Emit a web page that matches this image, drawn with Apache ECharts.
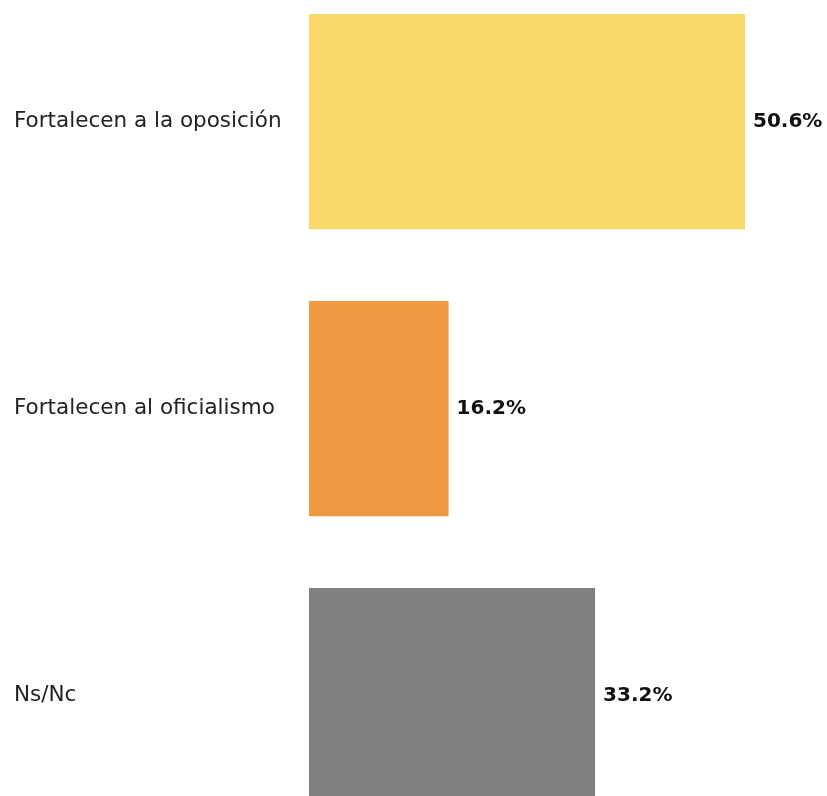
<!DOCTYPE html>
<html>
<head>
<meta charset="utf-8">
<script src="https://cdn.jsdelivr.net/npm/echarts@6/dist/echarts.min.js"></script>
<style>html,body{margin:0;padding:0;background:#fff;}#c{width:827px;height:796px;}</style>
</head>
<body>
<div id="c"></div>
<script>
const categories = ['Fortalecen a la oposición', 'Fortalecen al oficialismo', 'Ns/Nc'];
const values = [50.6, 16.2, 33.2];
const colors = ['#F8D86A', '#EF9A40', '#808080'];

const chart = echarts.init(document.getElementById('c'));
chart.setOption({
  animation: false,
  backgroundColor: '#ffffff',
  grid: { left: 309, top: -22, width: 517, height: 861, outerBoundsMode: 'none', containLabel: false },
  xAxis: { type: 'value', min: 0, max: 60, show: false },
  yAxis: {
    type: 'category', data: categories, inverse: true,
    axisLine: { show: false }, axisTick: { show: false },
    axisLabel: { align: 'left', margin: 295, color: '#222', fontSize: 21.5, fontFamily: 'DejaVu Sans' }
  },
  series: [{
    type: 'bar',
    barCategoryGap: '25%',
    data: values.map((v, i) => ({ value: v, itemStyle: { color: colors[i] } })),
    label: {
      show: true, position: 'right', distance: 8,
      formatter: p => p.value.toFixed(1) + '%',
      fontWeight: 'bold', fontSize: 20, color: '#111', fontFamily: 'DejaVu Sans'
    }
  }]
});
</script>
</body>
</html>
